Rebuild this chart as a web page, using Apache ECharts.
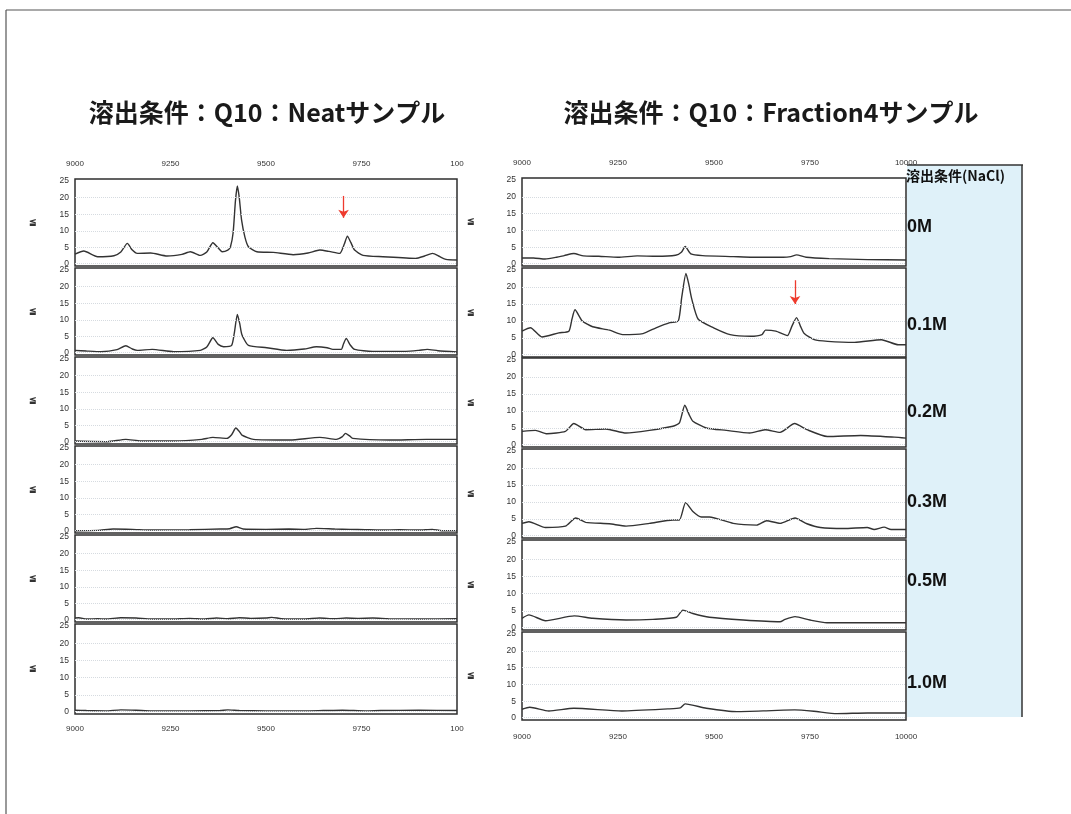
<!DOCTYPE html>
<html>
<head>
<meta charset="utf-8">
<script src="https://cdn.jsdelivr.net/npm/echarts@6/dist/echarts.min.js"></script>
<style>
  html, body { margin: 0; padding: 0; background: #ffffff; }
  #chart { width: 1071px; height: 814px; }
</style>
</head>
<body>
<div id="chart"></div>
<script>
// Panel titles and NaCl elution conditions
const titleNeat = '溶出条件：Q10：Neatサンプル';
const titleFraction = '溶出条件：Q10：Fraction4サンプル';
const conditionHeader = '溶出条件(NaCl)';
const conditions = ['0M', '0.1M', '0.2M', '0.3M', '0.5M', '1.0M'];

// Axis ticks
const mzTicks = [9000, 9250, 9500, 9750, 10000];
const intensityTicks = [0, 5, 10, 15, 20, 25];

// Neat sample spectra, [m/z, intensity]
const neat0M = [[9000,3.0],[9023,3.9],[9059,2.2],[9102,2.5],[9120,3.6],[9137,6.2],[9150,4.2],[9163,3.2],[9198,3.3],[9241,2.4],[9280,2.9],[9302,3.7],[9328,2.6],[9345,3.6],[9361,6.4],[9375,4.8],[9385,3.7],[9400,4.2],[9407,5.2],[9414,9.5],[9420,19.0],[9425,23.5],[9430,20.0],[9436,13.3],[9445,8.0],[9454,5.2],[9476,3.7],[9519,3.5],[9571,2.8],[9610,3.3],[9641,4.2],[9665,3.8],[9693,3.2],[9705,6.0],[9713,8.4],[9722,6.5],[9732,4.2],[9754,2.6],[9806,2.2],[9892,1.7],[9915,2.4],[9936,3.2],[9955,2.2],[9971,1.4],[10000,1.2]];
const neat01M = [[9000,0.8],[9030,0.6],[9068,0.4],[9110,1.0],[9133,2.2],[9150,1.2],[9163,0.8],[9202,1.1],[9258,0.4],[9328,0.8],[9345,1.8],[9361,4.6],[9375,2.6],[9389,1.9],[9410,2.3],[9417,6.0],[9425,11.6],[9431,9.0],[9437,5.5],[9454,2.3],[9502,1.6],[9554,0.8],[9600,1.2],[9632,1.9],[9660,1.6],[9675,1.1],[9697,1.1],[9703,2.8],[9710,4.4],[9720,2.5],[9732,1.1],[9779,0.5],[9866,0.5],[9900,0.8],[9922,1.1],[9950,0.7],[10000,0.3]];
const neat02M = [[9000,0.3],[9085,0.1],[9133,0.8],[9172,0.3],[9258,0.3],[9332,0.8],[9361,1.4],[9397,1.1],[9410,2.2],[9421,4.2],[9430,3.2],[9437,2.1],[9467,0.8],[9563,0.6],[9641,1.4],[9684,0.8],[9700,1.6],[9708,2.6],[9718,1.9],[9727,1.1],[9823,0.6],[9920,0.8],[10000,0.8]];
const neat03M = [[9000,0.1],[9060,0.2],[9100,0.6],[9150,0.5],[9200,0.3],[9300,0.4],[9380,0.6],[9405,0.7],[9422,1.3],[9440,0.6],[9500,0.5],[9560,0.6],[9600,0.5],[9632,0.8],[9680,0.6],[9720,0.5],[9760,0.4],[9800,0.3],[9850,0.4],[9900,0.3],[9935,0.5],[9960,0.1],[10000,0.1]];
const neat05M = [[9000,0.6],[9010,0.7],[9030,0.3],[9060,0.4],[9080,0.3],[9120,0.7],[9160,0.6],[9200,0.3],[9250,0.3],[9300,0.5],[9340,0.3],[9370,0.6],[9400,0.4],[9430,0.7],[9460,0.5],[9500,0.6],[9515,0.8],[9540,0.4],[9600,0.3],[9640,0.6],[9680,0.4],[9710,0.6],[9740,0.5],[9780,0.6],[9820,0.4],[9900,0.3],[10000,0.4]];
const neat10M = [[9000,0.5],[9030,0.4],[9080,0.3],[9120,0.6],[9160,0.5],[9200,0.3],[9300,0.3],[9380,0.4],[9400,0.6],[9430,0.4],[9500,0.3],[9600,0.3],[9650,0.4],[9700,0.5],[9760,0.3],[9800,0.4],[9900,0.5],[10000,0.4]];

// Fraction 4 sample spectra, [m/z, intensity]
const frac0M = [[9000,1.8],[9030,1.8],[9060,1.5],[9090,2.0],[9110,2.5],[9135,3.1],[9160,2.4],[9200,2.3],[9250,2.0],[9300,2.4],[9350,2.3],[9400,2.6],[9415,3.5],[9425,5.2],[9440,3.0],[9470,2.5],[9550,2.2],[9600,2.0],[9680,2.0],[9700,2.2],[9715,2.7],[9740,2.0],[9800,1.6],[9900,1.3],[10000,1.2]];
const frac01M = [[9000,7.0],[9022,8.0],[9052,5.3],[9096,6.5],[9122,7.0],[9130,10.5],[9138,13.3],[9157,10.0],[9184,8.3],[9228,7.3],[9262,6.0],[9315,6.3],[9349,8.0],[9385,9.5],[9407,10.0],[9416,17.0],[9427,24.0],[9434,21.0],[9442,16.5],[9459,10.5],[9499,8.0],[9542,6.0],[9595,5.5],[9625,6.0],[9634,7.3],[9661,7.0],[9691,5.7],[9703,8.5],[9715,11.0],[9725,8.5],[9735,6.3],[9761,4.5],[9796,4.0],[9866,3.7],[9936,4.5],[9980,3.0],[10000,3.0]];
const frac02M = [[9000,4.0],[9035,4.3],[9065,3.3],[9113,4.0],[9135,6.3],[9166,4.5],[9218,4.7],[9271,3.5],[9332,4.3],[9393,5.5],[9410,6.5],[9424,11.7],[9435,9.0],[9445,7.0],[9480,5.0],[9532,4.3],[9593,3.5],[9633,4.5],[9672,3.7],[9710,6.3],[9742,4.5],[9795,2.5],[9882,2.8],[9970,2.3],[10000,2.0]];
const frac03M = [[9000,3.7],[9018,4.2],[9061,2.5],[9113,2.9],[9140,5.3],[9166,4.0],[9227,3.6],[9271,2.9],[9332,3.7],[9393,4.7],[9410,4.7],[9426,9.8],[9445,7.2],[9467,5.6],[9488,5.6],[9550,3.7],[9611,3.2],[9637,4.5],[9672,3.7],[9711,5.3],[9742,3.6],[9777,2.5],[9838,2.2],[9899,2.5],[9917,1.9],[9943,2.6],[9961,1.9],[10000,1.9]];
const frac05M = [[9000,2.8],[9018,3.8],[9061,2.1],[9136,3.5],[9184,2.8],[9271,2.3],[9341,2.5],[9402,3.1],[9419,5.2],[9445,4.2],[9488,3.1],[9576,2.3],[9672,1.8],[9685,2.5],[9711,3.3],[9750,2.3],[9794,1.5],[9882,1.5],[10000,1.5]];
const frac10M = [[9000,2.6],[9020,3.2],[9070,2.1],[9135,2.9],[9260,2.1],[9380,2.7],[9412,3.0],[9425,4.2],[9480,2.9],[9560,1.9],[9650,2.2],[9710,2.4],[9760,2.0],[9820,1.3],[9900,1.5],[10000,1.5]];

const neatSeries = [neat0M, neat01M, neat02M, neat03M, neat05M, neat10M];
const fracSeries = [frac0M, frac01M, frac02M, frac03M, frac05M, frac10M];

// Peak markers (arrow at the m/z of interest)
const neatArrow = { mz: 9703, from: 20.5, to: 13.9 };
const fracArrow = { mz: 9711, from: 22.0, to: 15.0 };

// Panel layout
const leftX = 75, leftW = 382;
const rightX = 522, rightW = 384;
const leftTops = [179, 268, 357, 446, 535, 624];
const leftHeights = [87, 87, 87, 87, 87, 90];
const rightTops = [178, 268, 358, 449, 540, 632];
const rightHeights = [88, 89, 89, 89, 90, 88];
const conditionY = [227, 325, 412, 502, 581, 683];

const tickFont = "'Liberation Sans Narrow', 'Liberation Sans', Arial, sans-serif";
const cjkFont = "'Noto Sans CJK JP', 'Noto Sans', sans-serif";

const grids = [], xAxes = [], yAxes = [], series = [];

function addPanel(idx, left, top, width, height, data, isFirst, isLast, bottomMargin, arrow) {
  grids.push({ left: left, top: top, width: width, height: height, show: true,
    borderColor: '#2e2e2e', borderWidth: 1.5, backgroundColor: '#ffffff' });
  const showLabel = isFirst || isLast;
  xAxes.push({
    type: 'value', gridIndex: idx, min: 9000, max: 10000, interval: 250,
    position: isFirst ? 'top' : 'bottom',
    axisLine: { show: false }, axisTick: { show: false }, splitLine: { show: false },
    axisLabel: {
      show: showLabel, margin: isFirst ? 11 : bottomMargin,
      fontSize: 8, color: '#333', fontFamily: tickFont,
      customValues: mzTicks,
      formatter: function (v) { return (left === leftX && v === 10000) ? '100' : String(v); }
    }
  });
  yAxes.push({
    type: 'value', gridIndex: idx, min: -0.6, max: 25.6,
    name: '≦', nameLocation: 'middle', nameRotate: 0,
    nameGap: left === leftX ? 38 : 47,
    nameTextStyle: { fontSize: 9, fontWeight: 'bold', color: '#333' },
    axisLine: { show: false }, axisTick: { show: false },
    splitLine: { show: false },
    axisLabel: { customValues: intensityTicks, fontSize: 8.5, color: '#333', margin: 6, fontFamily: tickFont }
  });
  const s = {
    type: 'line', xAxisIndex: idx, yAxisIndex: idx, data: data,
    showSymbol: false, silent: true, smooth: 0.2,
    lineStyle: { color: '#333333', width: 1.4 },
    markLine: {
      silent: true, symbol: 'none', animation: false,
      lineStyle: { color: '#d6dbe0', type: 'dotted', width: 1 },
      label: { show: false },
      data: [{ yAxis: 0.3 }, { yAxis: 5 }, { yAxis: 10 }, { yAxis: 15 }, { yAxis: 20 }]
    }
  };
  if (arrow) {
    s.markLine.data.push([
      { coord: [arrow.mz, arrow.from], symbol: 'none',
        lineStyle: { color: '#ee3b2e', type: 'solid', width: 1.3 } },
      { coord: [arrow.mz, arrow.to], symbol: 'arrow', symbolSize: [8, 8],
        lineStyle: { color: '#ee3b2e', type: 'solid', width: 1.3 } }
    ]);
  }
  series.push(s);
}

for (let i = 0; i < 6; i++) {
  addPanel(i, leftX, leftTops[i], leftW, leftHeights[i], neatSeries[i], i === 0, i === 5, 11,
    i === 0 ? neatArrow : null);
}
for (let i = 0; i < 6; i++) {
  addPanel(6 + i, rightX, rightTops[i], rightW, rightHeights[i], fracSeries[i], i === 0, i === 5, 13,
    i === 1 ? fracArrow : null);
}

// Condition legend column beside the Fraction 4 panels
const legendGraphics = [
  { type: 'rect', shape: { x: 907, y: 165, width: 115, height: 552 },
    style: { fill: '#dff1f9' }, z: -1 },
  { type: 'line', shape: { x1: 907, y1: 165, x2: 1023, y2: 165 }, style: { stroke: '#333', lineWidth: 1.5 } },
  { type: 'line', shape: { x1: 1022, y1: 165, x2: 1022, y2: 717 }, style: { stroke: '#333', lineWidth: 1.5 } },
  { type: 'text', x: 906, y: 176, style: { text: conditionHeader, font: 'bold 14px ' + cjkFont, fill: '#111', verticalAlign: 'middle' } }
];
conditions.forEach(function (c, i) {
  legendGraphics.push({ type: 'text', x: 907, y: conditionY[i],
    style: { text: c, font: "bold 18px 'Liberation Sans', Arial, sans-serif", fill: '#111', verticalAlign: 'middle' } });
});
// Page frame
legendGraphics.push({ type: 'line', shape: { x1: 6, y1: 10, x2: 1071, y2: 10 }, style: { stroke: '#555', lineWidth: 1.2 } });
legendGraphics.push({ type: 'line', shape: { x1: 6, y1: 10, x2: 6, y2: 814 }, style: { stroke: '#555', lineWidth: 1.2 } });

const chart = echarts.init(document.getElementById('chart'));
chart.setOption({
  animation: false,
  backgroundColor: '#ffffff',
  title: [
    { text: titleNeat, left: 262, top: 95, textAlign: 'center',
      textStyle: { fontSize: 25, fontWeight: 'bold', color: '#1a1a1a', fontFamily: cjkFont } },
    { text: titleFraction, left: 766, top: 95, textAlign: 'center',
      textStyle: { fontSize: 25, fontWeight: 'bold', color: '#1a1a1a', fontFamily: cjkFont } }
  ],
  grid: grids,
  xAxis: xAxes,
  yAxis: yAxes,
  series: series,
  graphic: legendGraphics
});
</script>
</body>
</html>
